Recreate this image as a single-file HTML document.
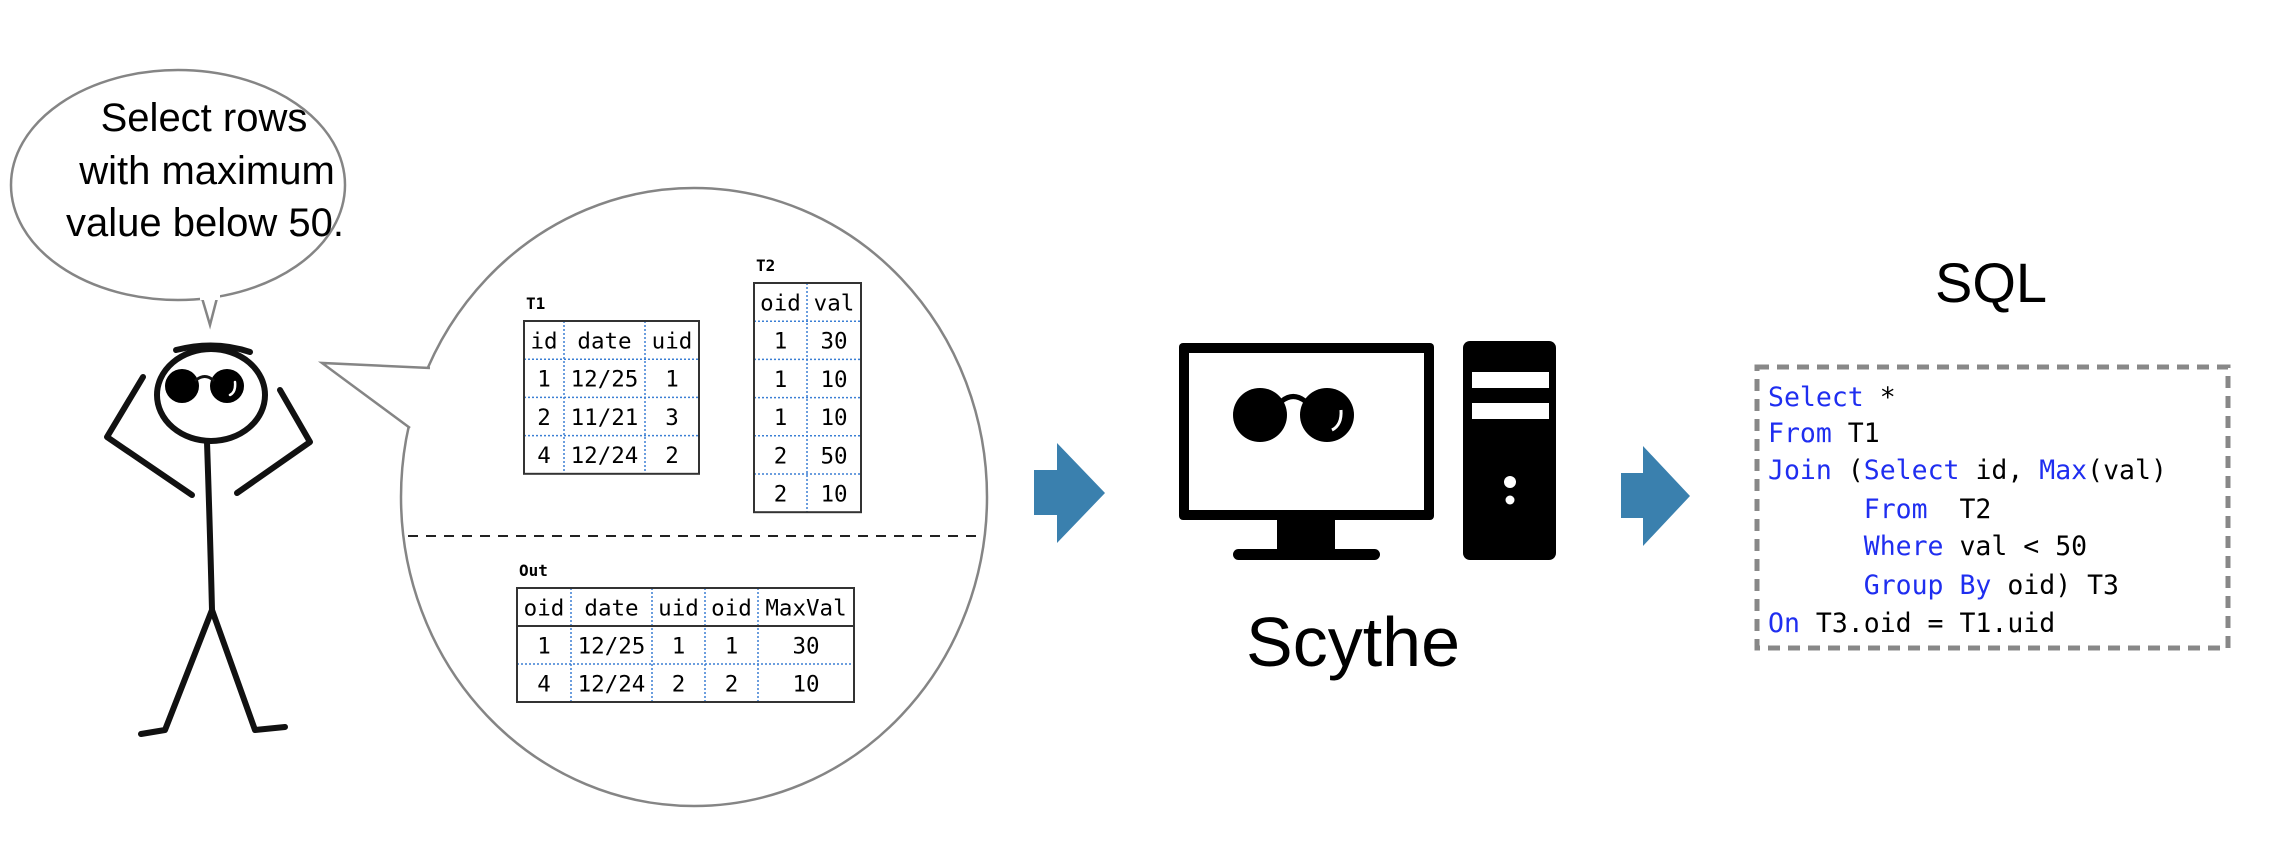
<!DOCTYPE html>
<html><head><meta charset="utf-8"><style>
html,body{margin:0;padding:0;background:#fff;}
svg{display:block;}
.pre text{white-space:pre;}
</style></head><body>
<svg id="root" width="2284" height="844" viewBox="0 0 2284 844" xmlns="http://www.w3.org/2000/svg">
  <g>
    <ellipse cx="178" cy="185" rx="167" ry="115" fill="#fff" stroke="#858585" stroke-width="2.5"/>
    <path d="M202 298 L210 325 L217 298" fill="#fff" stroke="#858585" stroke-width="2.5"/>
    <rect x="200" y="290" width="20" height="10" fill="#fff"/>
    <g font-family="Liberation Sans, sans-serif" font-size="40" text-anchor="middle" fill="#000">
      <text x="204" y="131">Select rows</text>
      <text x="207" y="184">with maximum</text>
      <text x="205" y="236">value below 50.</text>
    </g>
  </g>
  <g fill="none" stroke="#111" stroke-width="6" stroke-linecap="round" stroke-linejoin="round">
    <ellipse cx="211" cy="395" rx="54" ry="46"/>
    <path d="M176 350 Q215 340 250 352"/>
    <path d="M207 442 Q210 530 212 610"/>
    <path d="M212 610 L165 730 L141 734"/>
    <path d="M212 610 L255 730 L285 727"/>
    <path d="M143 377 L107 437 L192 495"/>
    <path d="M280 390 L310 442 L237 493"/>
    <circle cx="182" cy="386" r="17" fill="#000" stroke="none"/>
    <circle cx="227" cy="386" r="17" fill="#000" stroke="none"/>
    <path d="M196 380 Q205 373 213 380" stroke-width="3"/>
    <path d="M235 382 Q236 392 230 395" stroke="#fff" stroke-width="2.5"/>
  </g>
  <g>
    <ellipse cx="694" cy="497" rx="293" ry="309" fill="#fff" stroke="#858585" stroke-width="2.5"/>
    <path d="M430 368 L322 363 L410 428" fill="#fff" stroke="#858585" stroke-width="2.5"/>
    <path d="M432 372 L332 366 L412 425 Z" fill="#fff"/>
    <line x1="408" y1="536" x2="982" y2="536" stroke="#222" stroke-width="2" stroke-dasharray="10 8"/>
  </g>
  <g id="tables"></g>
  <path d="M1034 470 H1057 V443 L1105 493 L1057 543 V515 H1034 Z" fill="#3a80ae"/>
  <path d="M1621 473 H1643 V446 L1690 496 L1643 546 V518 H1621 Z" fill="#3a80ae"/>
  <g>
    <rect x="1179" y="343" width="255" height="177" rx="4" fill="#000"/>
    <rect x="1189" y="353" width="235" height="157" fill="#fff"/>
    <rect x="1277" y="518" width="58" height="34" fill="#000"/>
    <rect x="1233" y="549" width="147" height="11" rx="5.5" fill="#000"/>
    <circle cx="1260" cy="415" r="27" fill="#000"/>
    <circle cx="1327" cy="415" r="27" fill="#000"/>
    <path d="M1282 401 Q1293 392 1305 401" fill="none" stroke="#000" stroke-width="5"/>
    <path d="M1341 410 Q1342 425 1332 430" fill="none" stroke="#fff" stroke-width="3"/>
    <rect x="1463" y="341" width="93" height="219" rx="7" fill="#000"/>
    <rect x="1472" y="372" width="77" height="16" fill="#fff"/>
    <rect x="1472" y="403" width="77" height="16" fill="#fff"/>
    <circle cx="1510" cy="482" r="6" fill="#fff"/>
    <circle cx="1510" cy="500" r="4.5" fill="#fff"/>
  </g>
  <text x="1353" y="666" font-family="Liberation Sans, sans-serif" font-size="70" text-anchor="middle" fill="#000">Scythe</text>
  <text x="1991" y="302" font-family="Liberation Sans, sans-serif" font-size="56" text-anchor="middle" fill="#000">SQL</text>
  <rect x="1757" y="367" width="471" height="281" fill="none" stroke="#888" stroke-width="5" stroke-dasharray="12 8"/>
  <g class="pre" font-family="DejaVu Sans Mono, Liberation Mono, monospace" font-size="26.5" fill="#000">
    <text x="1768" y="406"><tspan fill="#1f2ef0">Select</tspan> *</text>
    <text x="1768" y="442"><tspan fill="#1f2ef0">From</tspan> T1</text>
    <text x="1768" y="479"><tspan fill="#1f2ef0">Join</tspan> (<tspan fill="#1f2ef0">Select</tspan> id, <tspan fill="#1f2ef0">Max</tspan>(val)</text>
    <text x="1768" y="518">      <tspan fill="#1f2ef0">From</tspan>  T2</text>
    <text x="1768" y="555">      <tspan fill="#1f2ef0">Where</tspan> val &lt; 50</text>
    <text x="1768" y="594">      <tspan fill="#1f2ef0">Group By</tspan> oid) T3</text>
    <text x="1768" y="632"><tspan fill="#1f2ef0">On</tspan> T3.oid = T1.uid</text>
  </g>
</svg>
<script>
const t1Header = ['id','date','uid'];
const t1Rows = [['1','12/25','1'],['2','11/21','3'],['4','12/24','2']];
const t2Header = ['oid','val'];
const t2Rows = [['1','30'],['1','10'],['1','10'],['2','50'],['2','10']];
const outHeader = ['oid','date','uid','oid','MaxVal'];
const outRows = [['1','12/25','1','1','30'],['4','12/24','2','2','10']];

const NS = 'http://www.w3.org/2000/svg';
const layer = document.getElementById('tables');
function mk(tag, attrs, parent){
  const e = document.createElementNS(NS, tag);
  for (const k in attrs) e.setAttribute(k, attrs[k]);
  parent.appendChild(e);
  return e;
}
function drawTable(name, label, header, rows, x, y, cols, rowH, solidHeader){
  const g = mk('g', {}, layer);
  
  
  const lb = mk('text', {x: x+2, y: y-12, 'font-family':'DejaVu Sans Mono, monospace', 'font-size':'16', 'font-weight':'bold'}, g);
  lb.textContent = label;
  
  
  const all = [header].concat(rows);
  const W = cols.reduce((a,b)=>a+b,0), H = rowH*all.length;
  let cx = x;
  for (let c=0;c<cols.length-1;c++){ cx += cols[c];
    mk('line',{x1:cx,y1:y,x2:cx,y2:y+H,stroke:'#3b7fd4','stroke-width':1.5,'stroke-dasharray':'2 2'},g); }
  for (let r=1;r<all.length;r++){
    const yy = y + r*rowH;
    if (r===1 && solidHeader) mk('line',{x1:x,y1:yy,x2:x+W,y2:yy,stroke:'#333','stroke-width':2},g);
    else mk('line',{x1:x,y1:yy,x2:x+W,y2:yy,stroke:'#3b7fd4','stroke-width':1.5,'stroke-dasharray':'2 2'},g);
  }
  mk('rect',{x:x,y:y,width:W,height:H,fill:'none',stroke:'#333','stroke-width':2},g);
  all.forEach((row,r)=>{
    let px = x;
    row.forEach((v,c)=>{
      const t = mk('text',{x:px+cols[c]/2,y:y+r*rowH+rowH*0.72,'text-anchor':'middle','font-family':'DejaVu Sans Mono, Liberation Mono, monospace','font-size':'22.5',fill:'#000'},g);
      t.textContent = v;
      
      
      px += cols[c];
    });
  });
}
drawTable('table-t1','T1',t1Header,t1Rows,524,321,[40,81,54],38.2,false);
drawTable('table-t2','T2',t2Header,t2Rows,754,283,[53,54],38.2,false);
drawTable('table-out','Out',outHeader,outRows,517,588,[54,81,53,53,96],38,true);
</script>
</body></html>
